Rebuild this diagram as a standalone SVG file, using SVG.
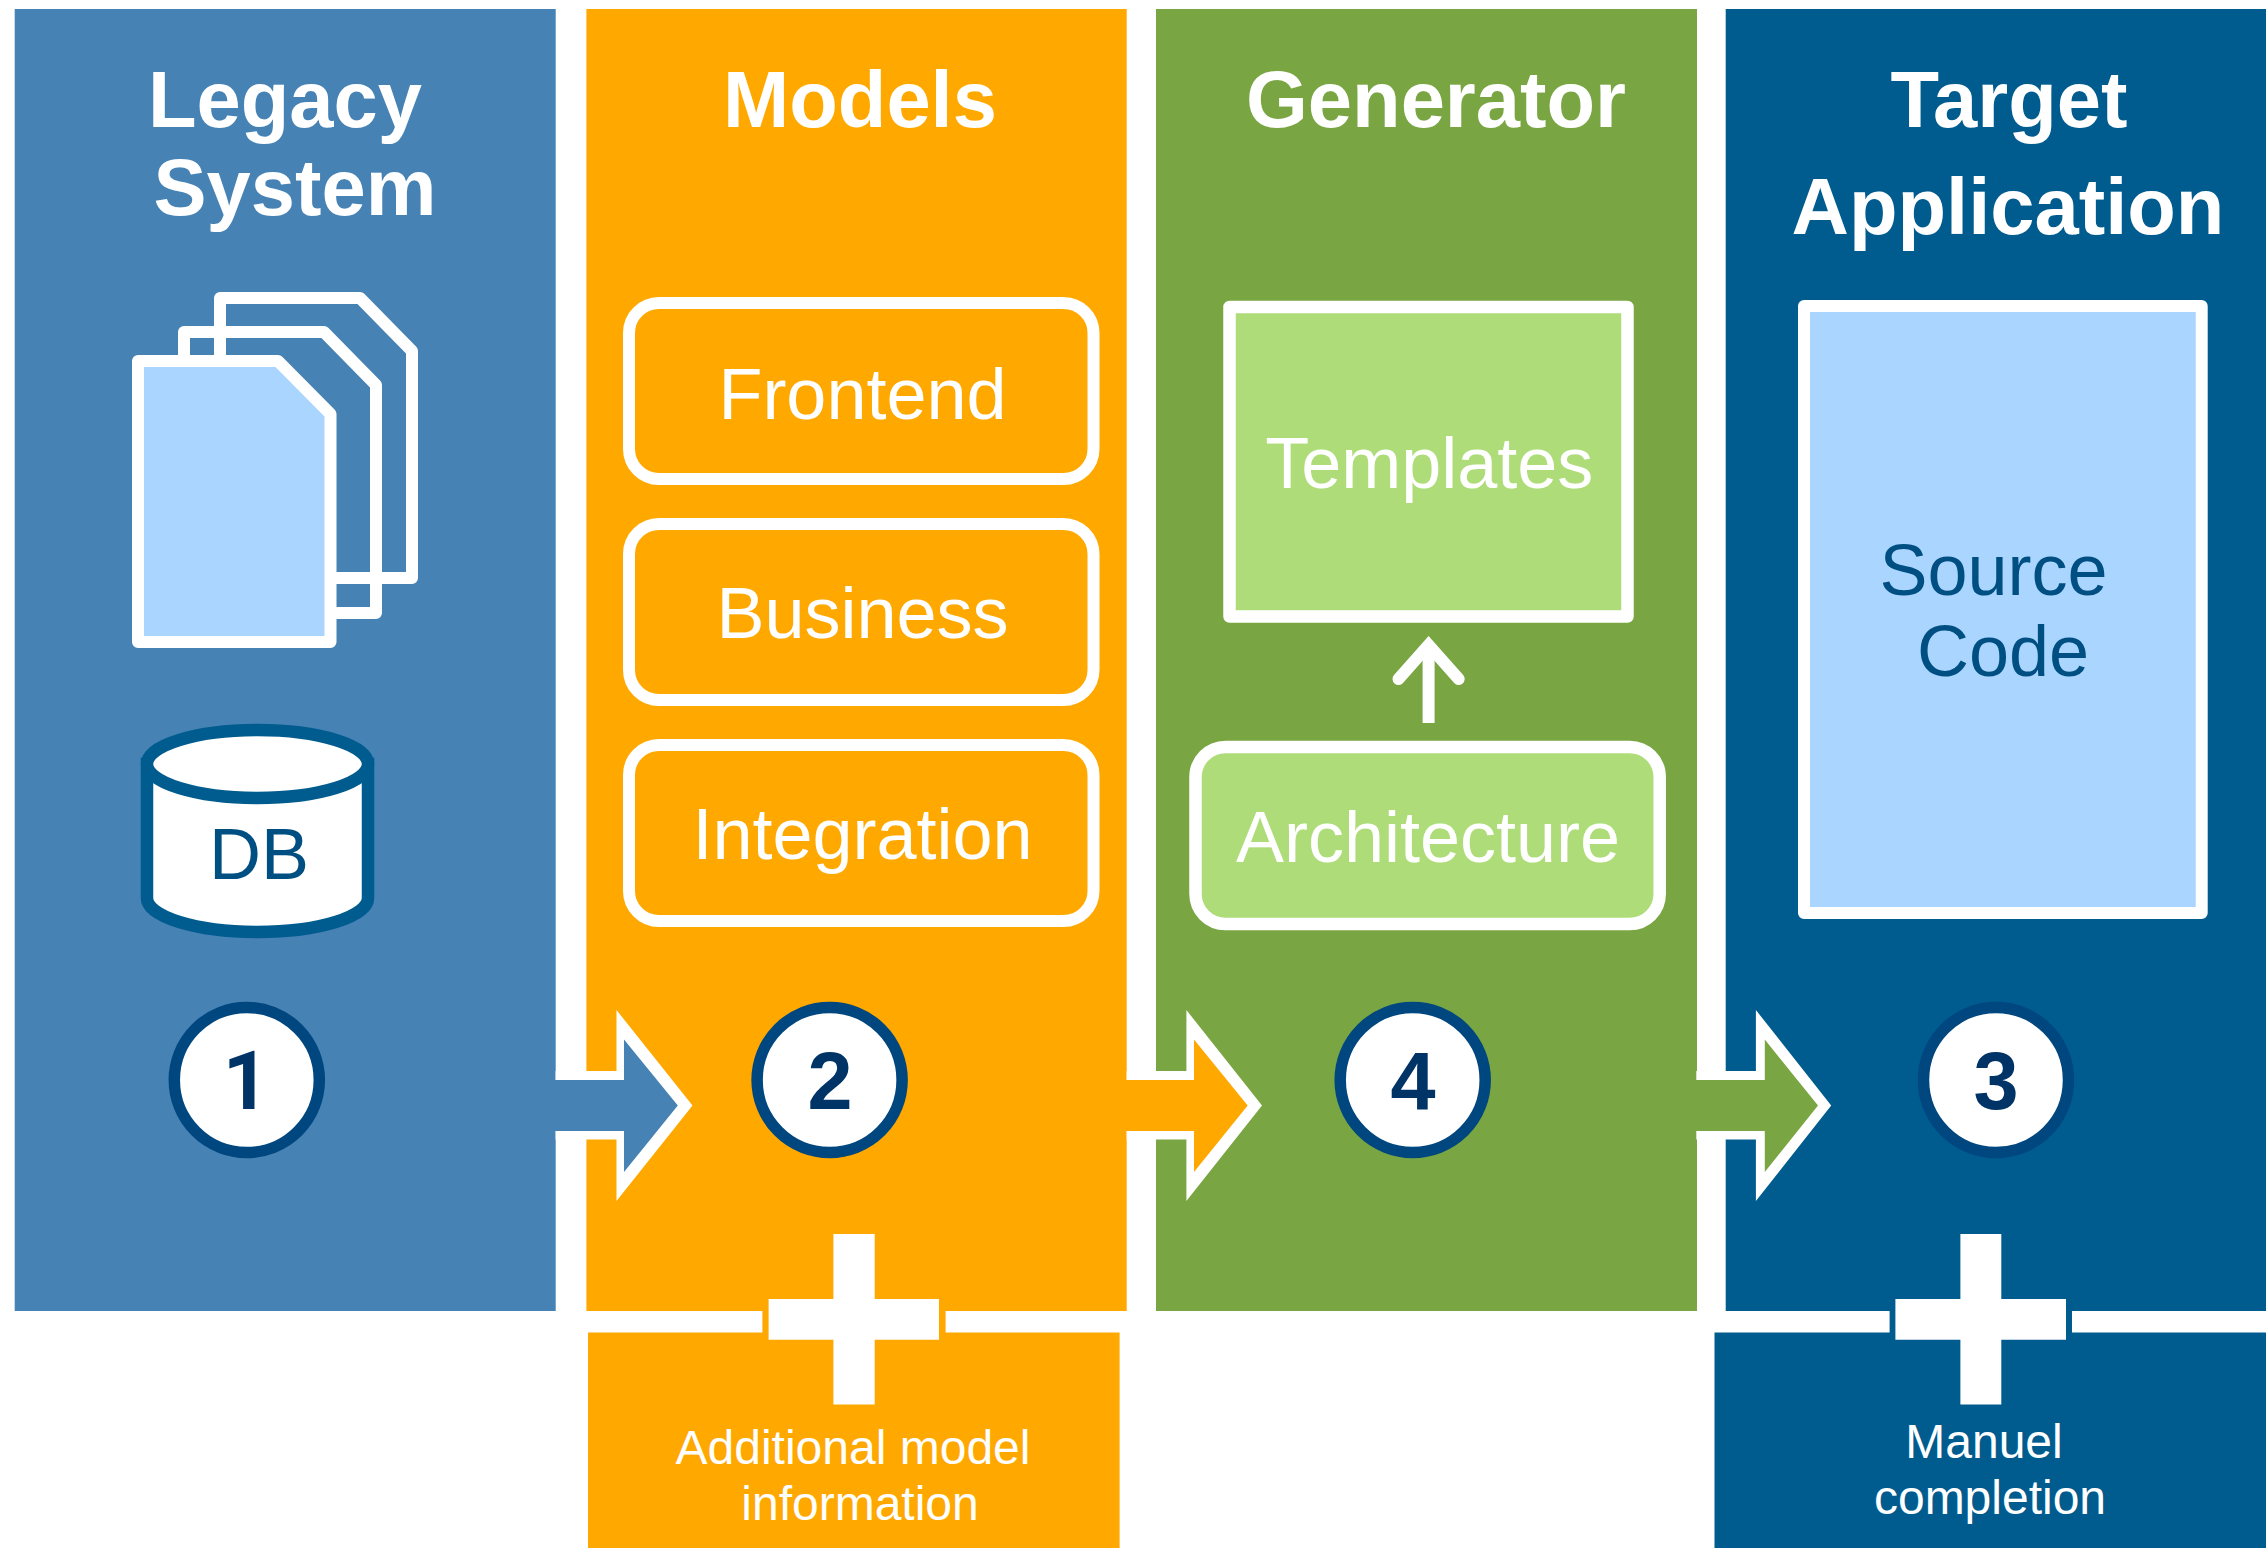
<svg xmlns="http://www.w3.org/2000/svg" width="2266" height="1548" viewBox="0 0 2266 1548">
<style>
text{font-family:"Liberation Sans",Arial,sans-serif;text-anchor:middle}
.title{font-size:79.500px;font-weight:700;fill:#fff}
.lbl{font-size:72px;fill:#fff}
.dark{font-size:72px;fill:#004F82}
.small{font-size:48px;fill:#fff}
.num{font-size:81px;font-weight:700;fill:#003366}
.ring{fill:#fff;stroke:#00467F;stroke-width:11.5}
.box{fill:none;stroke:#fff;stroke-width:12;stroke-linejoin:round}
.wh{fill:#fff}
</style>
<rect width="2266" height="1548" fill="#fff"/>
<g id="col-legacy">
<rect x="14.700" y="9" width="541" height="1302" fill="#4682B4"/>
<text class="title" x="285" y="127">Legacy</text>
<text class="title" x="295" y="215">System</text>
<g id="documents">
<path class="box" d="M220 298H360L412 351V578H220Z"/>
<path class="box" d="M184 332H324L376 385V613H184Z"/>
<path class="box" style="fill:#AAD5FF" d="M138 361H278L330.500 414V642H138Z"/>
</g>
<g id="db">
<path d="M147 764V898A110.500 34 0 0 0 368 898V764Z" fill="#fff" stroke="#005B8F" stroke-width="12.500"/>
<ellipse cx="257.500" cy="764" rx="110.500" ry="34" fill="#fff" stroke="#005B8F" stroke-width="12.500"/>
<text class="dark" x="259" y="879">DB</text>
</g>
</g>
<g id="col-models">
<rect x="586.400" y="9" width="540.300" height="1302" fill="#FFA800"/>
<text class="title" x="860" y="127">Models</text>
</g>
<g id="col-generator">
<rect x="1156" y="9" width="541" height="1302" fill="#79A542"/>
<text class="title" x="1436" y="127">Generator</text>
</g>
<g id="col-target">
<rect x="1725.700" y="9" width="540.300" height="1302" fill="#005B8F"/>
<text class="title" x="2009" y="127">Target</text>
<text class="title" x="2008" y="234">Application</text>
</g>
<g id="frontend"><rect class="box" x="629" y="303" width="464.500" height="176" rx="30"/><text class="lbl" x="862.500" y="419">Frontend</text></g>
<g id="business"><rect class="box" x="629" y="524" width="464.500" height="176" rx="30"/><text class="lbl" x="862.500" y="638">Business</text></g>
<g id="integration"><rect class="box" x="629" y="745" width="464.500" height="176" rx="30"/><text class="lbl" x="862.500" y="859">Integration</text></g>
<g id="templates"><rect class="box" style="fill:#AEDC78;stroke-width:12.500" x="1229.500" y="307" width="398" height="309.500"/><text class="lbl" x="1429.300" y="488">Templates</text></g>
<g id="architecture"><rect class="box" style="fill:#AEDC78;stroke-width:12.500" x="1195.500" y="747" width="464.200" height="177" rx="30"/><text class="lbl" x="1428" y="862">Architecture</text></g>
<g id="source-code"><rect class="box" style="fill:#AAD5FF" x="1804" y="306" width="397.700" height="607"/><text class="dark" x="1993.500" y="595">Source</text><text class="dark" x="2003" y="676">Code</text></g>
<g id="connectors">
<polygon class="wh" points="555.600,1071 616.500,1071 616.500,1010 692.500,1105.600 616.500,1201 616.500,1139.500 555.600,1139.500"/>
<polygon fill="#4682B4" points="550,1080 624,1080 624,1039.600 677.800,1105.600 624,1172 624,1131 550,1131"/>
<polygon class="wh" points="1126.700,1071 1186.400,1071 1186.400,1010 1262,1105.600 1186.400,1201 1186.400,1139.500 1126.700,1139.500"/>
<polygon fill="#FFA800" points="1120,1080 1194,1080 1194,1039.600 1247.700,1105.600 1194,1172 1194,1131 1120,1131"/>
<polygon class="wh" points="1696.300,1071 1755.900,1071 1755.900,1010 1831.200,1105.600 1755.900,1201 1755.900,1139.500 1696.300,1139.500"/>
<polygon fill="#79A542" points="1690,1080 1764.800,1080 1764.800,1039.600 1818,1105.600 1764.800,1172 1764.800,1131 1690,1131"/>
<path d="M1428.600 723V650" fill="none" stroke="#fff" stroke-width="12"/>
<path d="M1398.500 679L1428.600 645L1458.700 679" fill="none" stroke="#fff" stroke-width="12" stroke-linecap="round"/>
</g>
<g id="step-1"><circle class="ring" cx="246.800" cy="1080" r="72.500"/><text class="num" style="font-family:Roboto,'Liberation Sans',sans-serif" x="246" y="1109">1</text></g>
<g id="step-2"><circle class="ring" cx="829.600" cy="1080" r="72.500"/><text class="num" x="830" y="1109">2</text></g>
<g id="step-4"><circle class="ring" cx="1412.700" cy="1080" r="72.500"/><text class="num" x="1413" y="1109">4</text></g>
<g id="step-3"><circle class="ring" cx="1996" cy="1080" r="72.500"/><text class="num" x="1996" y="1109">3</text></g>
<g id="additional">
<rect x="588" y="1332.500" width="531.600" height="215.500" fill="#FFA800"/>
<rect x="762.400" y="1310" width="183.200" height="24" fill="#FFA800"/>
<path class="wh" d="M833.400 1234H874.700V1299H939V1339.800H874.700V1404.600H833.400V1339.800H768.600V1299H833.400Z"/>
<text class="small" x="853" y="1464">Additional model</text>
<text class="small" x="860" y="1520">information</text>
</g>
<g id="manual">
<rect x="1714.500" y="1332.500" width="551.500" height="215.500" fill="#005B8F"/>
<rect x="1889.600" y="1310" width="182.400" height="24" fill="#005B8F"/>
<path class="wh" d="M1960.400 1234H2001.300V1299H2066V1339.800H2001.300V1404.600H1960.400V1339.800H1895.400V1299H1960.400Z"/>
<text class="small" x="1984" y="1457.600">Manuel</text>
<text class="small" x="1990" y="1513.700">completion</text>
</g>
</svg>
